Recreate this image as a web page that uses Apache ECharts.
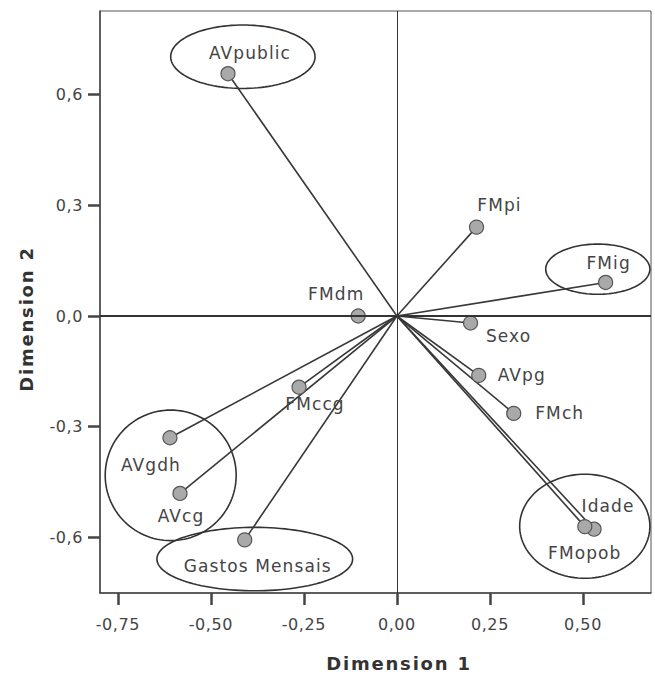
<!DOCTYPE html>
<html>
<head>
<meta charset="utf-8">
<script src="https://cdn.jsdelivr.net/npm/echarts@6/dist/echarts.min.js"></script>
<style>html,body{margin:0;padding:0;background:#fff}#c{width:655px;height:677px}</style>
</head>
<body>
<div id="c"></div>
<script>
// Data
const names = ['AVpublic','FMpi','FMig','FMdm','Sexo','AVpg','FMch','Idade','FMopob','FMccg','AVgdh','AVcg','Gastos Mensais'];
const dim1 = [-0.454, 0.214, 0.561, -0.104, 0.198, 0.220, 0.314, 0.530, 0.505, -0.263, -0.610, -0.583, -0.409];
const dim2 = [0.657, 0.241, 0.091, 0.000, -0.019, -0.161, -0.264, -0.578, -0.571, -0.193, -0.330, -0.481, -0.607];
const xTicks = [-0.75, -0.50, -0.25, 0.00, 0.25, 0.50];
const yTicks = [-0.6, -0.3, 0.0, 0.3, 0.6];
// Highlight ellipses (centre and radii in data units)
const ellCx = [-0.414, 0.540, -0.608, -0.382, 0.505];
const ellCy = [0.703, 0.127, -0.432, -0.659, -0.570];
const ellRx = [0.194, 0.140, 0.176, 0.263, 0.175];
const ellRy = [0.086, 0.068, 0.177, 0.086, 0.141];

// Label placement (pixel offsets, style only)
const labelOffset = {
  'AVpublic':[22,-21], 'FMpi':[23,-22], 'FMig':[3,-19], 'FMdm':[-22,-22],
  'Sexo':[38,13], 'AVpg':[43,0], 'FMch':[46,0], 'Idade':[14,-23],
  'FMopob':[0,26], 'FMccg':[16,17], 'AVgdh':[-19,27], 'AVcg':[1,23],
  'Gastos Mensais':[13,26]
};

const pts = names.map((n,i)=>({
  name:n, value:[dim1[i], dim2[i]],
  label:{offset: labelOffset[n] || [0,0]}
}));
const ells = ellCx.map((c,i)=>[c, ellCy[i], ellRx[i], ellRy[i]]);

const fmtX = v => v.toFixed(2).replace('.', ',');
const fmtY = v => v.toFixed(1).replace('.', ',');
const FONT = 'DejaVu Sans, Verdana, sans-serif';

const chart = echarts.init(document.getElementById('c'), null, {renderer:'svg'});
chart.on('finished', function(){
  document.querySelectorAll('#c text').forEach(function(t){
    const cs = getComputedStyle(t);
    const fs = parseFloat(cs.fontSize);
    const bold = parseInt(cs.fontWeight,10) >= 600 || cs.fontWeight === 'bold';
    let ls = 1.1;
    if (bold) ls = 1.8; else if (fs < 16.5) ls = 0.6;
    t.style.letterSpacing = ls + 'px';
  });
});
chart.setOption({
  animation:false,
  backgroundColor:'#fff',
  textStyle:{fontFamily:FONT},
  grid:{left:100, top:11, right:4, bottom:82, show:true, borderColor:'#555', borderWidth:1, backgroundColor:'transparent'},
  xAxis:{
    type:'value', min:-0.798, max:0.683,
    name:'Dimension 1', nameLocation:'middle', nameGap:61,
    nameTextStyle:{fontSize:18, fontWeight:'bold', color:'#333', fontFamily:FONT, padding:[0,0,0,47]},
    axisLine:{show:true, onZero:false, lineStyle:{color:'#444', width:1.5}},
    axisTick:{show:true, length:12, lineStyle:{color:'#444', width:2.5}, customValues:xTicks},
    axisLabel:{fontSize:16, color:'#444', margin:23, formatter:fmtX, customValues:xTicks, fontFamily:FONT},
    splitLine:{show:false}
  },
  yAxis:{
    type:'value', min:-0.751, max:0.827,
    name:'Dimension 2', nameLocation:'middle', nameGap:65, nameRotate:90,
    nameTextStyle:{fontSize:18, fontWeight:'bold', color:'#333', fontFamily:FONT, padding:[0,34,0,0]},
    axisLine:{show:true, onZero:false, lineStyle:{color:'#444', width:1.5}},
    axisTick:{show:true, length:12, lineStyle:{color:'#444', width:2.5}, customValues:yTicks},
    axisLabel:{fontSize:16, color:'#444', margin:17, formatter:fmtY, customValues:yTicks, fontFamily:FONT},
    splitLine:{show:false}
  },
  series:[
    {
      type:'custom', name:'ellipses', data:ells, silent:true, z:2,
      renderItem:function(params, api){
        const cx = api.value(0), cy = api.value(1), rx = api.value(2), ry = api.value(3);
        const p = [];
        for(let k=0;k<120;k++){
          const t = k/120*Math.PI*2;
          p.push(api.coord([cx + rx*Math.cos(t), cy + ry*Math.sin(t)]));
        }
        return {type:'polygon', shape:{points:p}, style:{fill:'none', stroke:'#333', lineWidth:1.6}};
      }
    },
    {
      type:'line', data:[], z:1,
      markLine:{
        silent:true, symbol:'none', label:{show:false},
        data:[
          {yAxis:0, lineStyle:{color:'#333', width:2, type:'solid'}},
          {xAxis:0, lineStyle:{color:'#333', width:1, type:'solid'}}
        ]
      }
    },
    {
      type:'custom', name:'rays', data:pts.map(p=>p.value), silent:true, z:3,
      renderItem:function(params, api){
        const o = api.coord([0,0]);
        const e = api.coord([api.value(0), api.value(1)]);
        return {type:'line', shape:{x1:o[0], y1:o[1], x2:e[0], y2:e[1]}, style:{stroke:'#383838', lineWidth:1.6}};
      }
    },
    {
      type:'scatter', data:pts, z:4,
      symbol:'circle', symbolSize:14,
      itemStyle:{color:'#a9a9a9', borderColor:'#555', borderWidth:1.2, opacity:1},
      label:{show:true, position:'inside', formatter:'{b}', color:'#444', fontSize:17, fontFamily:FONT}
    }
  ]
});
</script>
</body>
</html>
